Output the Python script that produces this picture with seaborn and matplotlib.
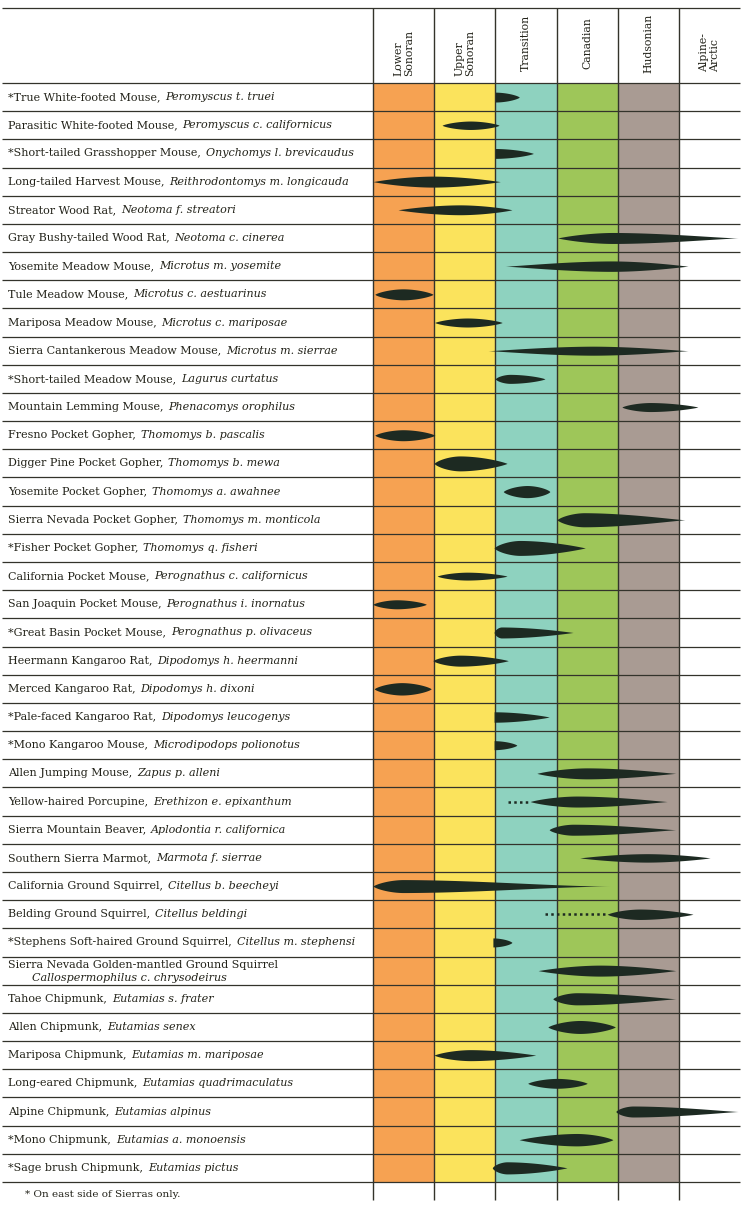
import numpy as np
import matplotlib.pyplot as plt
import seaborn as sns

# life zones (columns)
zones = ['Lower\nSonoran', 'Upper\nSonoran', 'Transition', 'Canadian', 'Hudsonian', 'Alpine-\nArctic']
zone_pos = [0.5, 1.5, 2.5, 3.5, 4.5, 5.5]
zone_colors = ['#f6a252', '#fbe35c', '#8ed2bf', '#9ec659', '#a99b93', '#ffffff']

common = [
    '*True White-footed Mouse', 'Parasitic White-footed Mouse', '*Short-tailed Grasshopper Mouse',
    'Long-tailed Harvest Mouse', 'Streator Wood Rat', 'Gray Bushy-tailed Wood Rat',
    'Yosemite Meadow Mouse', 'Tule Meadow Mouse', 'Mariposa Meadow Mouse',
    'Sierra Cantankerous Meadow Mouse', '*Short-tailed Meadow Mouse', 'Mountain Lemming Mouse',
    'Fresno Pocket Gopher', 'Digger Pine Pocket Gopher', 'Yosemite Pocket Gopher',
    'Sierra Nevada Pocket Gopher', '*Fisher Pocket Gopher', 'California Pocket Mouse',
    'San Joaquin Pocket Mouse', '*Great Basin Pocket Mouse', 'Heermann Kangaroo Rat',
    'Merced Kangaroo Rat', '*Pale-faced Kangaroo Rat', '*Mono Kangaroo Mouse',
    'Allen Jumping Mouse', 'Yellow-haired Porcupine', 'Sierra Mountain Beaver',
    'Southern Sierra Marmot', 'California Ground Squirrel', 'Belding Ground Squirrel',
    '*Stephens Soft-haired Ground Squirrel', 'Sierra Nevada Golden-mantled Ground Squirrel',
    'Tahoe Chipmunk', 'Allen Chipmunk', 'Mariposa Chipmunk', 'Long-eared Chipmunk',
    'Alpine Chipmunk', '*Mono Chipmunk', '*Sage brush Chipmunk',
]
latin = [
    'Peromyscus t. truei', 'Peromyscus c. californicus', 'Onychomys l. brevicaudus',
    'Reithrodontomys m. longicauda', 'Neotoma f. streatori', 'Neotoma c. cinerea',
    'Microtus m. yosemite', 'Microtus c. aestuarinus', 'Microtus c. mariposae',
    'Microtus m. sierrae', 'Lagurus curtatus', 'Phenacomys orophilus',
    'Thomomys b. pascalis', 'Thomomys b. mewa', 'Thomomys a. awahnee',
    'Thomomys m. monticola', 'Thomomys q. fisheri', 'Perognathus c. californicus',
    'Perognathus i. inornatus', 'Perognathus p. olivaceus', 'Dipodomys h. heermanni',
    'Dipodomys h. dixoni', 'Dipodomys leucogenys', 'Microdipodops polionotus',
    'Zapus p. alleni', 'Erethizon e. epixanthum', 'Aplodontia r. californica',
    'Marmota f. sierrae', 'Citellus b. beecheyi', 'Citellus beldingi',
    'Citellus m. stephensi', 'Callospermophilus c. chrysodeirus',
    'Eutamias s. frater', 'Eutamias senex', 'Eutamias m. mariposae', 'Eutamias quadrimaculatus',
    'Eutamias alpinus', 'Eutamias a. monoensis', 'Eutamias pictus',
]

# range of each species in zone units (0 = lower edge of Lower Sonoran)
start = [2.00, 1.13, 2.00, 0.00, 0.41, 3.02, 2.16, 0.03, 1.01, 1.88, 2.00, 4.07, 0.03,
         1.00, 2.13, 3.01, 1.98, 1.05, 0.00, 1.98, 0.98, 0.02, 1.98, 1.98, 2.68, 2.57,
         2.88, 3.38, 0.00, 3.83, 1.96, 2.70, 2.94, 2.86, 1.00, 2.53, 3.97, 2.39, 1.95]
end = [2.39, 2.06, 2.62, 2.08, 2.27, 5.97, 5.15, 0.98, 2.11, 5.15, 2.81, 5.31, 1.01,
       2.19, 2.89, 5.10, 3.47, 2.19, 0.87, 3.27, 2.21, 0.95, 2.88, 2.35, 4.95, 4.81,
       4.95, 5.51, 3.89, 5.23, 2.27, 4.95, 4.95, 3.96, 2.66, 3.50, 5.97, 3.92, 3.17]
peak = [2.00, 1.59, 2.00, 0.98, 1.42, 3.92, 3.90, 0.49, 1.54, 3.60, 2.24, 4.53, 0.49,
        1.42, 2.52, 3.45, 2.40, 1.54, 0.39, 2.10, 1.42, 0.47, 1.98, 1.98, 3.50, 3.33,
        3.27, 4.48, 0.49, 4.36, 1.96, 3.71, 3.33, 3.38, 1.59, 3.01, 4.25, 3.33, 2.19]
# abundance = thickness of the mark, as fraction of row height
thick = [0.35, 0.30, 0.35, 0.39, 0.35, 0.39, 0.37, 0.39, 0.32, 0.32, 0.32, 0.32, 0.39,
         0.53, 0.43, 0.50, 0.53, 0.28, 0.32, 0.39, 0.39, 0.44, 0.37, 0.32, 0.39, 0.39,
         0.39, 0.30, 0.46, 0.37, 0.32, 0.39, 0.43, 0.46, 0.39, 0.35, 0.39, 0.44, 0.43]
# dotted extension (doubtful range) start, nan = none
dotted = [np.nan] * 39
dotted[25] = 2.21
dotted[29] = 2.81

ink = '#1d2a22'
line_c = '#33332b'
text_c = '#222219'
serif = 'DejaVu Serif'

sns.set_style('white')
fig = plt.figure(figsize=(7.5, 12.09), dpi=100)
ax = fig.add_axes([0, 0, 1, 1])

n = len(common)
sns.barplot(x=zone_pos, y=[n] * 6, hue=zones, palette=zone_colors, native_scale=True,
            width=1, saturation=1, linewidth=0, legend=False, ax=ax)

ax.set_xlim(-6.098, 6.163)
ax.set_ylim(39.96, -2.945)
ax.axis('off')

# grid lines
ax.hlines(np.arange(0, n + 1), -6.065, 6.0, color=line_c, lw=0.9, zorder=3)
ax.hlines(-2.66, -6.065, 6.0, color=line_c, lw=0.9, zorder=3)
ax.vlines(np.arange(0, 6), -2.66, 39.64, color=line_c, lw=1.0, zorder=3)

# zone headers
for x, z in zip(zone_pos, zones):
    yc = -1.07 if '\n' in z else -1.42
    ax.text(x, yc, z, rotation=90, ha='center', va='center', multialignment='left',
            fontsize=7.8, family=serif, color=text_c, linespacing=1.1)

# species labels
fs = 8.0
for i in range(n):
    y = i + 0.5
    if len(common[i]) + len(latin[i]) > 65:
        ax.text(-5.967, y - 0.21, common[i], ha='left', va='center', fontsize=fs,
                family=serif, color=text_c)
        ax.text(-5.575, y + 0.26, latin[i], ha='left', va='center', fontsize=fs,
                family=serif, style='italic', color=text_c)
        continue
    t = ax.text(-5.967, y, common[i] + ',', ha='left', va='center', fontsize=fs,
                family=serif, color=text_c)
    ax.annotate(latin[i], xy=(1, 0), xycoords=t, xytext=(3.5, 0), textcoords='offset points',
                ha='left', va='bottom', fontsize=fs, family=serif, style='italic', color=text_c)

ax.text(-5.69, 39.46, '* On east side of Sierras only.', ha='left', va='center',
        fontsize=7.5, family=serif, color=text_c)

# range marks: lens shapes, longer sides taper more
for i in range(n):
    y = i + 0.5
    s, e, p, h = start[i], end[i], peak[i], thick[i] / 2
    x = np.linspace(s, e, 400)
    left = max(p - s, 1e-6)
    right = max(e - p, 1e-6)
    tt = np.where(x < p, (p - x) / left, (x - p) / right)
    k = np.where(x < p, 0.6 + 0.35 * left, 0.6 + 0.35 * right)
    w = h * np.clip(1 - tt ** 1.8, 0, 1) ** k
    ax.fill_between(x, y - w, y + w, color=ink, lw=0, zorder=4)
    if not np.isnan(dotted[i]):
        ax.plot([dotted[i], s], [y, y], color=ink, lw=1.8, ls=(0, (1, 1.3)), zorder=4)

fig.savefig('out.png', dpi=100)
